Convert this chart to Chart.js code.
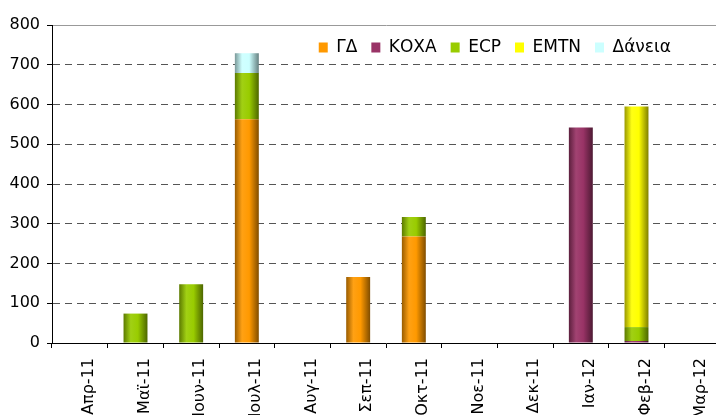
<!DOCTYPE html>
<html>
<head>
<meta charset="utf-8">
<script src="https://cdn.jsdelivr.net/npm/chart.js@4/dist/chart.umd.min.js"></script>
<style>
  html, body { margin: 0; padding: 0; background: #fff; overflow: hidden; }
  #wrap { width: 720px; height: 415px; }
</style>
</head>
<body>
<div id="wrap"><canvas id="chart"></canvas></div>
<script>
const months = ['Απρ-11', 'Μαϊ-11', 'Ιουν-11', 'Ιουλ-11', 'Αυγ-11', 'Σεπ-11', 'Οκτ-11', 'Νοε-11', 'Δεκ-11', 'Ιαν-12', 'Φεβ-12', 'Μαρ-12'];
const gd     = [null, null, null, 563, null, 166, 268, null, null, null, null, null];
const koxa   = [null, null, null, null, null, null, null, null, null, 542, 5, null];
const ecp    = [null, 74, 148, 116, null, null, 49, null, null, null, 35, null];
const emtn   = [null, null, null, null, null, null, null, null, null, null, 555, null];
const daneia = [null, null, null, 50, null, null, null, null, null, null, null, null];

const BAR_FRAC = 0.43;
const PLOT_TOP = 23;

function mix(hex, f) {
  // f < 1 darkens, f > 1 moves towards white
  const n = parseInt(hex.slice(1), 16);
  let c = [(n >> 16) & 255, (n >> 8) & 255, n & 255];
  c = c.map(v => f <= 1 ? Math.round(v * f) : Math.round(v + (255 - v) * (f - 1)));
  return 'rgb(' + c.join(',') + ')';
}

// horizontal shading across each bar, like the old excel bars
function barFill(base) {
  return (c) => {
    const chart = c.chart;
    const x = chart.scales && chart.scales.x;
    if (!chart.chartArea || !x || c.dataIndex === undefined) return base;
    const mid = x.getPixelForValue(c.dataIndex);
    const w = (x.width / months.length) * BAR_FRAC;
    const g = chart.ctx.createLinearGradient(mid - w / 2, 0, mid + w / 2, 0);
    g.addColorStop(0, mix(base, 0.6));
    g.addColorStop(0.3, mix(base, 1.08));
    g.addColorStop(0.6, base);
    g.addColorStop(1, mix(base, 0.5));
    return g;
  };
}

const series = [
  { label: 'ΓΔ', data: gd, color: '#FF9900' },
  { label: 'ΚΟΧΑ', data: koxa, color: '#993366' },
  { label: 'ECP', data: ecp, color: '#99CC00' },
  { label: 'EMTN', data: emtn, color: '#FFFF00' },
  { label: 'Δάνεια', data: daneia, color: '#CCFFFF' }
];

// the legend sits inside the plot, top right
const legendInside = {
  id: 'legendInside',
  afterLayout(chart) {
    const lg = chart.legend;
    if (!lg) return;
    const h = lg.height;
    lg.top = PLOT_TOP + 2;
    lg.bottom = lg.top + h;
    lg.right = 685;
  }
};

new Chart(document.getElementById('chart'), {
  type: 'bar',
  data: {
    labels: months,
    datasets: series.map(s => ({
      label: s.label,
      data: s.data,
      backgroundColor: barFill(s.color),
      borderWidth: 0,
      categoryPercentage: 1,
      barPercentage: BAR_FRAC
    }))
  },
  options: {
    responsive: true,
    maintainAspectRatio: false,
    animation: false,
    layout: { padding: { top: -16, right: 0, left: 0, bottom: 0 } },
    plugins: {
      tooltip: { enabled: false },
      legend: {
        position: 'top',
        align: 'end',
        labels: {
          boxWidth: 9,
          boxHeight: 10,
          padding: 14,
          color: '#000',
          font: { family: 'DejaVu Sans', size: 17 },
          generateLabels: chart => series.map((s, i) => ({
            text: s.label,
            fillStyle: s.color,
            strokeStyle: s.color,
            lineWidth: 0,
            hidden: !chart.isDatasetVisible(i),
            datasetIndex: i
          }))
        }
      }
    },
    scales: {
      x: {
        stacked: true,
        grid: { drawOnChartArea: false, tickLength: 5, tickColor: '#000', offset: true },
        border: { color: '#000' },
        ticks: {
          minRotation: 90,
          maxRotation: 90,
          autoSkip: false,
          padding: 10,
          labelOffset: 9,
          color: '#000',
          font: { family: 'DejaVu Sans', size: 16 }
        },
        afterFit(s) { s.height = 415 - 343; s.paddingLeft = 0; s.paddingRight = 0; }
      },
      y: {
        stacked: true,
        min: 0,
        max: 800,
        grid: {
          color: c => c.tick.value === 0 ? 'rgba(0,0,0,0)' : (c.tick.value === 800 ? '#999999' : '#555555'),
          tickLength: 5,
          tickColor: '#000',
          tickBorderDash: []
        },
        border: {
          color: '#000',
          dash: c => c.tick && c.tick.value === 800 ? [] : [7, 5]
        },
        ticks: {
          stepSize: 100,
          padding: 7,
          color: '#000',
          font: { family: 'DejaVu Sans', size: 16 }
        },
        afterFit(s) { s.width = 52; }
      }
    }
  },
  plugins: [legendInside]
});
</script>
</body>
</html>
